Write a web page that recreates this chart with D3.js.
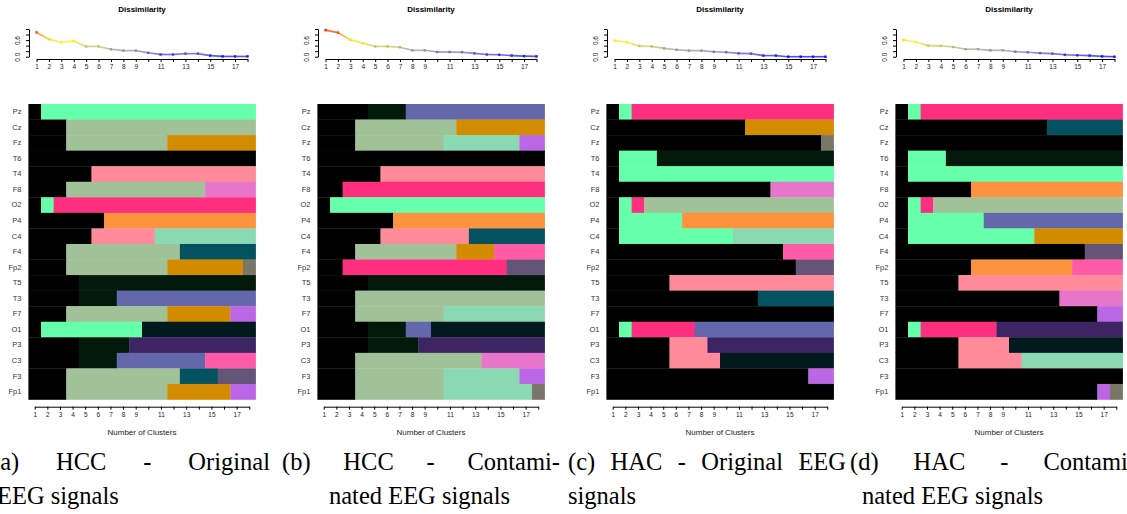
<!DOCTYPE html>
<html>
<head>
<meta charset="utf-8">
<script src="https://cdn.jsdelivr.net/npm/d3@7/dist/d3.min.js"></script>
<style>
  body { margin: 0; background: #fff; }
  svg text { font-family: "Liberation Sans", Arial, sans-serif; }
  .caption { font-family: "Liberation Serif", "DejaVu Serif", serif; font-size: 24.5px; fill: #000; }
</style>
</head>
<body>
<svg id="chart" width="1127" height="514"></svg>
<script>
// electrodes, top to bottom
var electrodes = ['Pz', 'Cz', 'Fz', 'T6', 'T4', 'F8', 'O2', 'P4', 'C4', 'F4',
    'Fp2', 'T5', 'T3', 'F7', 'O1', 'P3', 'C3', 'F3', 'Fp1'];

var clusterCounts = [1, 2, 3, 4, 5, 6, 7, 8, 9, 10, 11, 12, 13, 14, 15, 16, 17, 18];
var clusterTickLabels = [1, 2, 3, 4, 5, 6, 7, 8, 9, 11, 13, 15, 17];
var dissimTicks = [0, 0.2, 0.4, 0.6, 0.8, 1.0];
var dissimTickLabels = [0, 0.6];

// dissimilarity curves, one value per number of clusters
var dissimA = [0.88, 0.63, 0.52, 0.57, 0.37, 0.37, 0.27, 0.22, 0.22, 0.14, 0.08, 0.08, 0.11, 0.11, 0.04, 0.01, 0.01, 0.01];
var dissimB = [0.96, 0.87, 0.61, 0.49, 0.37, 0.37, 0.34, 0.23, 0.23, 0.17, 0.17, 0.16, 0.12, 0.08, 0.07, 0.04, 0.02, 0.01];
var dissimC = [0.58, 0.52, 0.39, 0.37, 0.30, 0.25, 0.22, 0.22, 0.18, 0.16, 0.12, 0.11, 0.04, 0.04, 0.00, 0.00, 0.00, 0.00];
var dissimD = [0.60, 0.53, 0.40, 0.39, 0.35, 0.27, 0.27, 0.23, 0.23, 0.18, 0.16, 0.13, 0.11, 0.07, 0.05, 0.04, 0.01, 0.00];

// cluster membership per electrode: "k c" = from k clusters on, colour c
var rowsA = ['1k 2g', '1k 4s', '1k 4s 12o', '1k', '1k 6r', '1k 4s 15m', '1k 2g 3h', '1k 7a', '1k 6r 11t', '1k 4s 13e',
    '1k 4s 12o 18y', '1k 5d', '1k 5d 8b', '1k 4s 12o 17v', '1k 2g 10n', '1k 5d 9p', '1k 5d 8b 15i', '1k 4s 13e 16u', '1k 4s 12o 17v'];
var rowsB = ['1k 5d 8b', '1k 4s 12o', '1k 4s 11t 17v', '1k', '1k 6r', '1k 3h', '1k 2g', '1k 7a', '1k 6r 13e', '1k 4s 12o 15i',
    '1k 3h 16u', '1k 5d', '1k 4s', '1k 4s 11t', '1k 5d 8b 10n', '1k 5d 9p', '1k 4s 14m', '1k 4s 11t 17v', '1k 4s 11t 18y'];
var rowsC = ['1k 2g 3h', '1k 12o', '1k 18y', '1k 2g 5d', '1k 2g', '1k 14m', '1k 2g 3h 4s', '1k 2g 7a', '1k 2g 11t', '1k 15i',
    '1k 16u', '1k 6r', '1k 13e', '1k', '1k 2g 3h 8b', '1k 6r 9p', '1k 6r 10n', '1k 17v', '1k'];
var rowsD = ['1k 2g 3h', '1k 13e', '1k', '1k 2g 5d', '1k 2g', '1k 7a', '1k 2g 3h 4s', '1k 2g 8b', '1k 2g 12o', '1k 16u',
    '1k 7a 15i', '1k 6r', '1k 14m', '1k 17v', '1k 2g 3h 9p', '1k 6r 10n', '1k 6r 11t', '1k', '1k 17v 18y'];

var captionA = [['(a)', 'HCC', '-', 'Original'], ['EEG', 'signals']];
var captionB = [['(b)', 'HCC', '-', 'Contami-'], ['nated', 'EEG', 'signals']];
var captionC = [['(c)', 'HAC', '-', 'Original', 'EEG'], ['signals']];
var captionD = [['(d)', 'HAC', '-', 'Contami-'], ['nated', 'EEG', 'signals']];

var palette = {
    k: '#000000', g: '#66ffaa', s: '#a1c299', o: '#d38c00', r: '#ff8a9a', m: '#e776cb',
    h: '#ff2f7f', a: '#fd923f', t: '#8ad9b2', e: '#04525f', y: '#7a7668', d: '#011a0c',
    b: '#6467a9', n: '#02191e', p: '#3d2564', i: '#ff5ba7', u: '#645478', v: '#bb66e4'
};

var lineColor = d3.scaleLinear()
    .domain([0, 0.22, 0.55, 0.95])
    .range(['#1010ff', '#9090a8', '#ffff00', '#ff2a00']);

var svg = d3.select('#chart');
var defs = svg.append('defs');

var panels = [
    { dx: 0, dissim: dissimA, rows: rowsA, caption: captionA, cap: [-8, 270, -3] },
    { dx: 289, dissim: dissimB, rows: rowsB, caption: captionB, cap: [282, 560, 329] },
    { dx: 578, dissim: dissimC, rows: rowsC, caption: captionC, cap: [568, 846, 568] },
    { dx: 867, dissim: dissimD, rows: rowsD, caption: captionD, cap: [850, 1136, 862] }
];

function parseRow(str) {
    var segs = str.split(' ').map(function (t) {
        return { from: +t.slice(0, -1), c: t.slice(-1) };
    });
    segs.forEach(function (s, i) {
        s.to = i < segs.length - 1 ? segs[i + 1].from - 1 : clusterCounts[clusterCounts.length - 1];
    });
    return segs;
}

panels.forEach(function (p, pi) {
    var g = svg.append('g').attr('transform', 'translate(' + p.dx + ',0)');

    // ---- dissimilarity plot ----
    var x = d3.scaleLinear().domain([1, 18]).range([36.5, 247.5]);
    var y = d3.scaleLinear().domain([0, 1]).range([56.7, 29]);

    g.append('text')
        .attr('x', 142).attr('y', 12)
        .attr('text-anchor', 'middle')
        .style('font-size', '8px').style('font-weight', 'bold')
        .text('Dissimilarity');

    var segs = d3.pairs(p.dissim.map(function (v, i) { return [clusterCounts[i], v]; }));
    segs.forEach(function (s, i) {
        var id = 'grad' + pi + '_' + i;
        var lg = defs.append('linearGradient').attr('id', id)
            .attr('gradientUnits', 'userSpaceOnUse')
            .attr('x1', x(s[0][0])).attr('y1', y(s[0][1]))
            .attr('x2', x(s[1][0])).attr('y2', y(s[1][1]) + 0.01);
        lg.append('stop').attr('offset', 0).attr('stop-color', lineColor(s[0][1]));
        lg.append('stop').attr('offset', 1).attr('stop-color', lineColor(s[1][1]));
        g.append('line')
            .attr('x1', x(s[0][0])).attr('y1', y(s[0][1]))
            .attr('x2', x(s[1][0])).attr('y2', y(s[1][1]))
            .attr('stroke', 'url(#' + id + ')')
            .attr('stroke-width', 1.6)
            .attr('stroke-opacity', 0.75);
    });

    g.selectAll('rect.pt')
        .data(p.dissim)
        .enter()
        .append('rect')
        .attr('class', 'pt')
        .attr('x', function (d, i) { return x(clusterCounts[i]) - 1.2; })
        .attr('y', function (d) { return y(d) - 1.2; })
        .attr('width', 2.4).attr('height', 2.4)
        .attr('fill', function (d) { return lineColor(d); });

    var xa = g.append('g')
        .attr('transform', 'translate(0,59)')
        .call(d3.axisBottom(x)
            .tickValues(clusterCounts)
            .tickSize(3).tickSizeOuter(0).tickPadding(2)
            .tickFormat(function (d) { return clusterTickLabels.indexOf(d) >= 0 ? d : ''; }));
    xa.selectAll('text').style('font-size', '6.5px').style('fill', '#222');

    var ya = g.append('g')
        .attr('transform', 'translate(29,0)')
        .call(d3.axisLeft(y)
            .tickValues(dissimTicks)
            .tickSize(3).tickSizeOuter(0)
            .tickFormat(function () { return ''; }));
    ya.selectAll('.tick').filter(function (d) { return dissimTickLabels.indexOf(d) >= 0; })
        .append('text')
        .attr('transform', 'translate(-9,0) rotate(-90)')
        .attr('text-anchor', 'middle')
        .style('fill', '#222')
        .style('font-size', '6.5px')
        .text(function (d) { return d.toFixed(1); });
    g.selectAll('.domain, .tick line').attr('stroke', '#000');

    // ---- cluster membership heatmap ----
    var hx = d3.scaleBand().domain(clusterCounts).range([28.4, 255.6]).padding(0);
    var hy = d3.scaleBand().domain(electrodes).range([104, 399.5]).padding(0);

    electrodes.forEach(function (el, ri) {
        var cells = parseRow(p.rows[ri]);
        g.selectAll(null)
            .data(cells)
            .enter()
            .append('rect')
            .attr('x', function (d) { return hx(d.from); })
            .attr('width', function (d) { return hx(d.to) + hx.bandwidth() - hx(d.from) + 0.3; })
            .attr('y', hy(el))
            .attr('height', hy.bandwidth() + 0.3)
            .attr('fill', function (d) { return palette[d.c]; });
    });

    var ya2 = g.append('g')
        .attr('transform', 'translate(28.4,0)')
        .call(d3.axisLeft(hy).tickSize(0).tickPadding(7));
    ya2.select('.domain').remove();
    ya2.selectAll('text').style('font-size', '7.5px').style('fill', '#333');

    var hp = d3.scalePoint().domain(clusterCounts).range([hx(1) + hx.bandwidth() / 2, hx(18) + hx.bandwidth() / 2]);
    var xa2 = g.append('g')
        .attr('transform', 'translate(0,406.7)')
        .call(d3.axisBottom(hp)
            .tickSize(3).tickSizeOuter(0).tickPadding(3)
            .tickFormat(function (d) { return clusterTickLabels.indexOf(d) >= 0 ? d : ''; }));
    xa2.selectAll('text').style('font-size', '6.5px').style('fill', '#222');
    xa2.selectAll('.domain, .tick line').attr('stroke', '#000');

    g.append('text')
        .attr('x', 142).attr('y', 435)
        .attr('text-anchor', 'middle')
        .style('fill', '#222')
        .style('font-size', '8px')
        .text('Number of Clusters');

    // ---- caption ----
    var cap = svg.append('g');
    var line1 = p.caption[0];
    var words = line1.map(function (w) {
        return cap.append('text').attr('class', 'caption').attr('y', 470).text(w);
    });
    var widths = words.map(function (t) { return t.node().getComputedTextLength(); });
    var gap = (p.cap[1] - p.cap[0] - d3.sum(widths)) / (words.length - 1);
    var cx = p.cap[0];
    words.forEach(function (t, i) {
        t.attr('x', cx);
        cx += widths[i] + gap;
    });
    cap.append('text').attr('class', 'caption')
        .attr('x', p.cap[2]).attr('y', 504)
        .text(p.caption[1].join(' '));
});
</script>
</body>
</html>
